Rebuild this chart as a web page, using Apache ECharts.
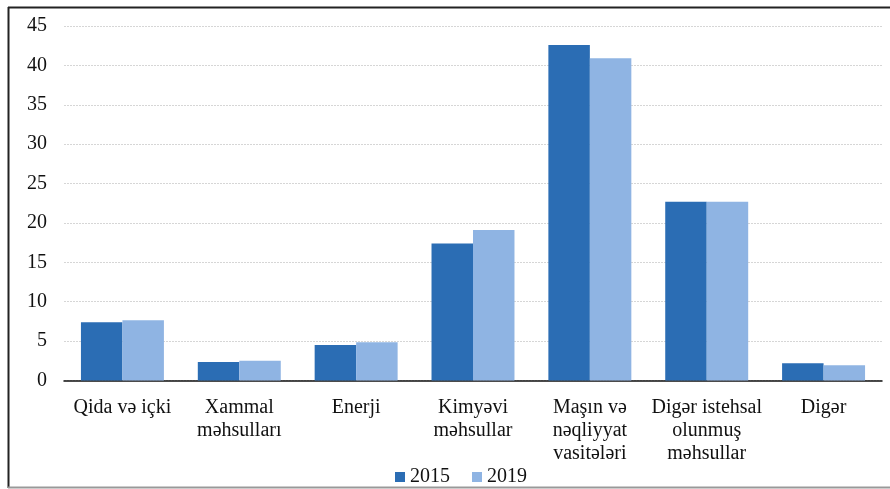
<!DOCTYPE html>
<html>
<head>
<meta charset="utf-8">
<script src="https://cdn.jsdelivr.net/npm/echarts@6/dist/echarts.min.js"></script>
<style>
  html, body { margin: 0; padding: 0; background: #fff; }
  #chart { width: 890px; height: 489px; }
</style>
</head>
<body>
<div id="chart"></div>
<script>
// categories and values
var categories = [
	'Qida və içki',
	'Xammal\nməhsulları',
	'Enerji',
	'Kimyəvi\nməhsullar',
	'Maşın və\nnəqliyyat\nvasitələri',
	'Digər istehsal\nolunmuş\nməhsullar',
	'Digər'
];
var values2015 = [7.4, 2.35, 4.5, 17.4, 42.6, 22.7, 2.2];
var values2019 = [7.65, 2.5, 4.85, 19.1, 40.9, 22.7, 1.95];
var seriesNames = ['2015', '2019'];

var font = 'Liberation Serif';

var myChart = echarts.init(document.getElementById('chart'));

var option = {
	animation: false,
	backgroundColor: '#fff',
	textStyle: { fontFamily: font },
	grid: {
		left: 64,
		right: 8,
		top: 26,
		bottom: 108.5
	},
	legend: {
		left: 390,
		top: 462,
		itemWidth: 10,
		itemHeight: 10,
		itemGap: 22,
		icon: 'rect',
		textStyle: {
			fontFamily: font,
			fontSize: 20,
			color: '#111'
		},
		data: seriesNames
	},
	xAxis: {
		type: 'category',
		data: categories,
		axisLine: { lineStyle: { color: '#111', width: 1.5 } },
		axisTick: { length: 6, lineStyle: { color: '#111', width: 1.5 } },
		axisLabel: {
			interval: 0,
			margin: 16,
			fontFamily: font,
			fontSize: 20,
			lineHeight: 23,
			color: '#111'
		}
	},
	yAxis: {
		type: 'value',
		min: 0,
		max: 45,
		interval: 5,
		axisLine: { show: false },
		axisTick: { show: false },
		axisLabel: {
			margin: 17,
			fontFamily: font,
			fontSize: 20,
			color: '#111'
		},
		splitLine: {
			lineStyle: { color: '#d6d6d6', type: [2, 1], width: 1 }
		}
	},
	series: [
		{
			name: seriesNames[0],
			type: 'bar',
			barGap: '0%',
			barCategoryGap: '29%',
			itemStyle: { color: '#2B6DB4' },
			data: values2015
		},
		{
			name: seriesNames[1],
			type: 'bar',
			itemStyle: { color: '#8FB4E3' },
			data: values2019
		}
	],
	graphic: [
		{ type: 'line', shape: { x1: 8.5, y1: 7, x2: 8.5, y2: 488 }, style: { stroke: '#222', lineWidth: 2 } },
		{ type: 'line', shape: { x1: 8, y1: 7.5, x2: 890, y2: 7.5 }, style: { stroke: '#222', lineWidth: 2 } },
		{ type: 'line', shape: { x1: 8, y1: 487.5, x2: 890, y2: 487.5 }, style: { stroke: '#999', lineWidth: 2 } }
	]
};

myChart.setOption(option);
</script>
</body>
</html>
